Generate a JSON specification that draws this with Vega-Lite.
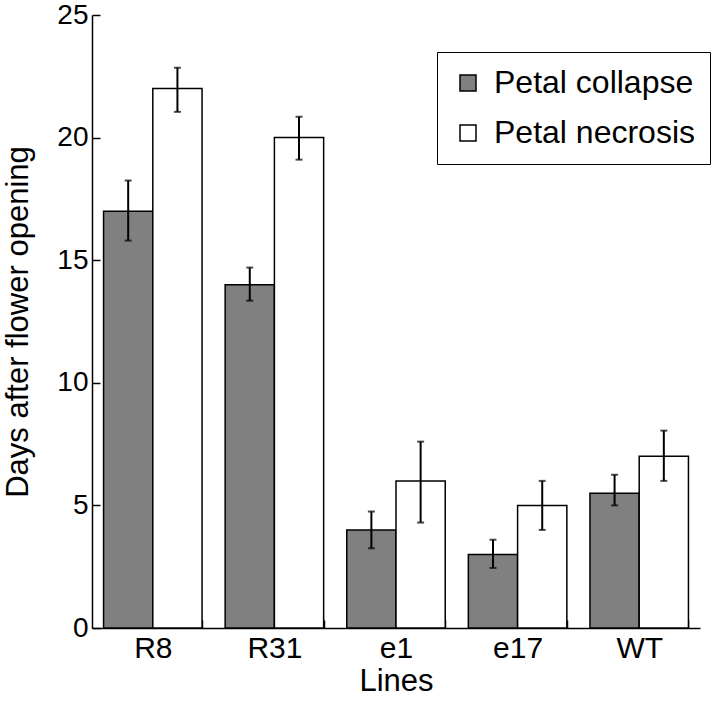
{
  "$schema": "https://vega.github.io/schema/vega-lite/v6.json",
  "width": 608,
  "height": 613,
  "autosize": {"type": "none"},
  "padding": {"left": 92, "top": 15, "right": 20, "bottom": 82},
  "config": {
    "font": "Liberation Sans",
    "view": {"stroke": null},
    "axis": {"grid": false, "domainColor": "black", "domainWidth": 1.5, "tickColor": "black", "tickWidth": 1.5, "labelColor": "black", "titleColor": "black", "labelFontSize": 30, "titleFontSize": 31, "titleFontWeight": "normal"}
  },
  "data": {
    "values": [
      {"line": "R8", "series": "Petal collapse", "value": 17, "low": 15.8, "high": 18.25},
      {"line": "R8", "series": "Petal necrosis", "value": 22, "low": 21.05, "high": 22.85},
      {"line": "R31", "series": "Petal collapse", "value": 14, "low": 13.35, "high": 14.7},
      {"line": "R31", "series": "Petal necrosis", "value": 20, "low": 19.1, "high": 20.85},
      {"line": "e1", "series": "Petal collapse", "value": 4, "low": 3.25, "high": 4.75},
      {"line": "e1", "series": "Petal necrosis", "value": 6, "low": 4.3, "high": 7.6},
      {"line": "e17", "series": "Petal collapse", "value": 3, "low": 2.45, "high": 3.6},
      {"line": "e17", "series": "Petal necrosis", "value": 5, "low": 4.0, "high": 6.0},
      {"line": "WT", "series": "Petal collapse", "value": 5.5, "low": 5.0, "high": 6.25},
      {"line": "WT", "series": "Petal necrosis", "value": 7, "low": 6.0, "high": 8.05}
    ]
  },
  "encoding": {
    "x": {
      "field": "line", "type": "nominal", "sort": ["R8", "R31", "e1", "e17", "WT"],
      "scale": {"paddingInner": 0.19, "paddingOuter": 0.095},
      "axis": {"title": "Lines", "labelAngle": 0, "tickBand": "extent", "tickSize": -8, "labelPadding": 13, "titlePadding": 3}
    },
    "xOffset": {"field": "series", "type": "nominal", "scale": {"paddingInner": 0, "paddingOuter": 0}}
  },
  "layer": [
    {
      "mark": {"type": "bar", "stroke": "black", "strokeWidth": 1.5},
      "encoding": {
        "y": {
          "field": "value", "type": "quantitative",
          "scale": {"domain": [0, 25], "nice": false},
          "axis": {"title": "Days after flower opening", "values": [0, 5, 10, 15, 20, 25], "tickSize": -8, "labelPadding": 12, "labelFontSize": 28, "titlePadding": 22}
        },
        "fill": {
          "field": "series", "type": "nominal",
          "scale": {"domain": ["Petal collapse", "Petal necrosis"], "range": ["#808080", "#ffffff"]},
          "legend": {
            "title": null, "orient": "none", "legendX": 345, "legendY": 37,
            "symbolType": "square", "symbolSize": 256, "symbolStrokeColor": "black", "symbolStrokeWidth": 1.5,
            "labelFontSize": 32, "labelColor": "black", "labelOffset": 10, "labelLimit": 400,
            "strokeColor": "black", "fillColor": "white", "padding": 15, "rowPadding": 18
          }
        }
      }
    },
    {
      "mark": {"type": "rule", "color": "black", "strokeWidth": 2},
      "encoding": {
        "y": {"field": "low", "type": "quantitative"},
        "y2": {"field": "high"}
      }
    },
    {
      "mark": {"type": "tick", "orient": "horizontal", "color": "black", "size": 7, "thickness": 2},
      "encoding": {"y": {"field": "low", "type": "quantitative"}}
    },
    {
      "mark": {"type": "tick", "orient": "horizontal", "color": "black", "size": 7, "thickness": 2},
      "encoding": {"y": {"field": "high", "type": "quantitative"}}
    }
  ]
}
